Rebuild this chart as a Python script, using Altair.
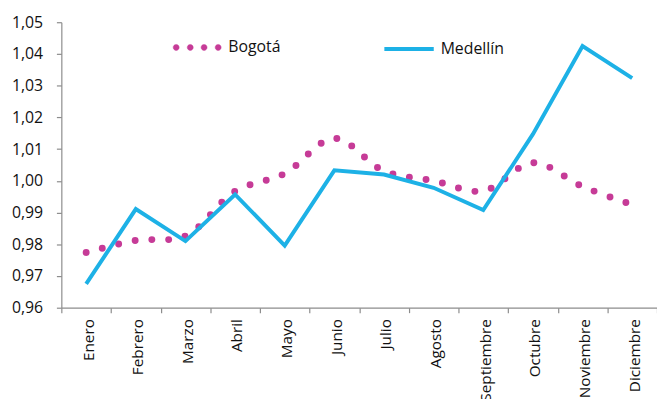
import altair as alt
import pandas as pd

months = ["Enero", "Febrero", "Marzo", "Abril", "Mayo", "Junio", "Julio",
          "Agosto", "Septiembre", "Octubre", "Noviembre", "Diciembre"]
bogota = [0.9774, 0.9812, 0.9826, 0.9967, 1.0023, 1.0134, 1.0031, 1.0000,
          0.9968, 1.0057, 0.9982, 0.9925]
medellin = [0.9675, 0.9911, 0.9810, 0.9957, 0.9796, 1.0033, 1.0020, 0.9978,
            0.9908, 1.0147, 1.0425, 1.0324]
y_ticks = [0.96, 0.97, 0.98, 0.99, 1.00, 1.01, 1.02, 1.03, 1.04, 1.05]

MAG = "#C63B97"
CYAN = "#1DB1E6"
FONT = "Open Sans"

df = pd.DataFrame({
    "mes": months * 2,
    "ciudad": ["Bogotá"] * 12 + ["Medellín"] * 12,
    "valor": bogota + medellin,
})

x = alt.X("mes:N", sort=months,
          scale=alt.Scale(type="band", paddingInner=0, paddingOuter=0),
          axis=alt.Axis(title=None, labelAngle=-90, tickBand="extent",
                        tickSize=5, labelPadding=6, labelOffset=2,
                        labelFontSize=15.5))
y = alt.Y("valor:Q",
          scale=alt.Scale(domain=[0.96, 1.05], nice=False, zero=False),
          axis=alt.Axis(title=None, values=y_ticks, grid=False, tickSize=5,
                        labelPadding=14,
                        labelExpr="replace(format(datum.value, '.2f'), '.', ',')"))

# four small round dots as the Bogotá legend symbol
centers = [-0.85, -0.28, 0.28, 0.85]
r = 0.12
dots_path = " ".join(
    f"M{c - r:.3f},0 A{r},{r} 0 1,1 {c + r:.3f},0 A{r},{r} 0 1,1 {c - r:.3f},0 Z"
    for c in centers
)

bog = alt.Chart(df).transform_filter(alt.datum.ciudad == "Bogotá").mark_line(
    strokeDash=[0, 17], strokeCap="round", strokeWidth=7,
    interpolate="catmull-rom"
).encode(
    x=x, y=y,
    color=alt.Color("ciudad:N",
                    scale=alt.Scale(domain=["Bogotá"], range=[MAG]),
                    legend=alt.Legend(title=None, orient="none", legendX=112,
                                      legendY=0, symbolType=dots_path,
                                      symbolSize=2500, symbolStrokeWidth=0.5,
                                      symbolDash=[1, 0],
                                      symbolFillColor=MAG,
                                      padding=0, labelOffset=6,
                                      labelFont=FONT, labelFontSize=16,
                                      labelColor="#111111")),
)

med = alt.Chart(df).transform_filter(alt.datum.ciudad == "Medellín").mark_line(
    strokeWidth=4, strokeJoin="miter"
).encode(
    x=x, y=y,
    color=alt.Color("ciudad:N",
                    scale=alt.Scale(domain=["Medellín"], range=[CYAN]),
                    legend=alt.Legend(title=None, orient="none", legendX=325,
                                      legendY=0, symbolType="stroke",
                                      symbolSize=2500, symbolStrokeWidth=4,
                                      padding=0, labelOffset=5,
                                      labelFont=FONT, labelFontSize=16,
                                      labelColor="#111111")),
)

chart = alt.layer(bog, med).resolve_scale(color="independent").properties(
    width=603, height=289,
    autosize=alt.AutoSizeParams(type="none"),
    padding={"left": 54, "top": 12, "right": 0, "bottom": 90},
).configure_view(stroke=None).configure_axis(
    labelFont=FONT, labelFontSize=16, labelColor="#111111",
    domainColor="#8c8c8c", tickColor="#8c8c8c", domainWidth=1.2, tickWidth=1.2,
)

chart.save("out.html", embed_options={"renderer": "svg", "actions": False})
